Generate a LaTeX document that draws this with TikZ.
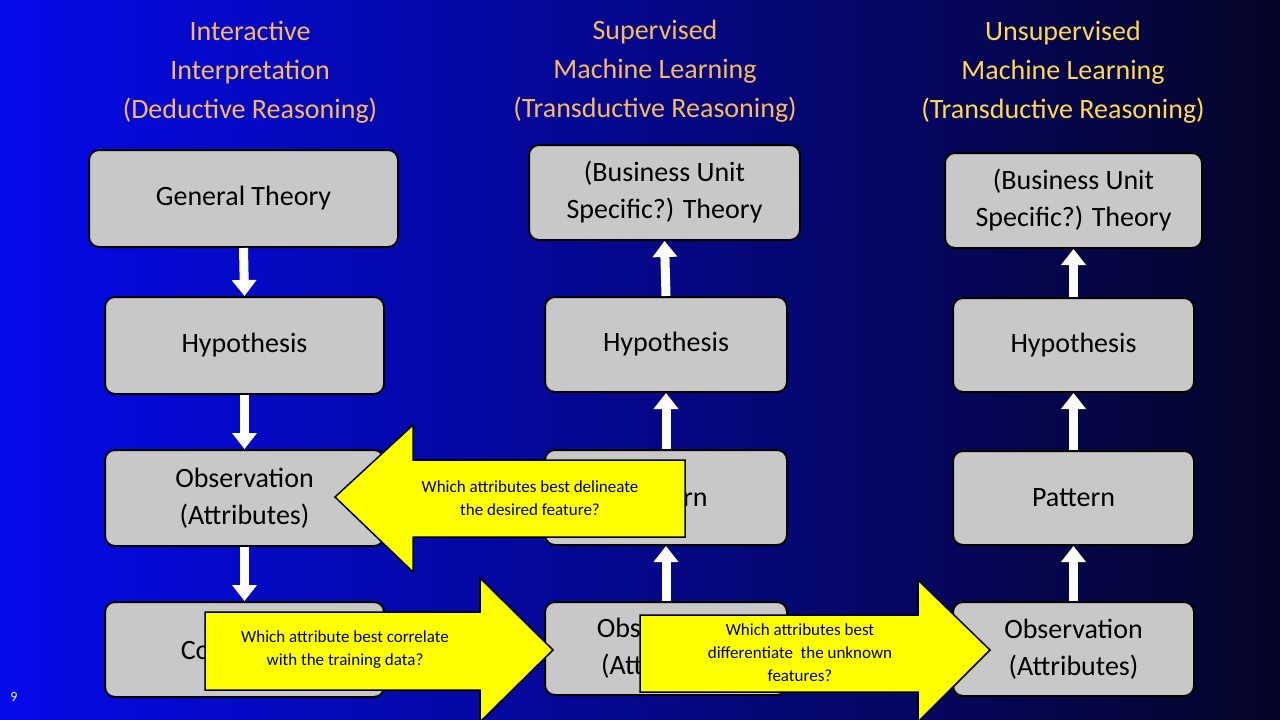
\documentclass[tikz,border=0pt]{standalone}
\usepackage{fontspec}
\setmainfont{Carlito}
\usetikzlibrary{arrows.meta}
\definecolor{boxgray}{RGB}{200,200,200}
\definecolor{ttlA}{RGB}{250,185,90}
\definecolor{ttlB}{RGB}{255,215,80}
\definecolor{yel}{RGB}{255,255,0}
\tikzset{
 box/.style={draw=black,line width=2pt,fill=boxgray,rounded corners=10pt,font=\fontsize{28}{37}\selectfont,align=center},
 ttl/.style={font=\fontsize{28}{39}\selectfont,align=center},
 warr/.style={white,line width=9pt,-{Triangle[width=24pt,length=16pt]}},
 yarr/.style={fill=yel,draw=black,line width=1.5pt},
 ytext/.style={font=\fontsize{17}{23}\selectfont,align=center}
}
\begin{document}
\begin{tikzpicture}[x=1pt,y=-1pt]
\useasboundingbox (0,0) rectangle (1280,720);
\shade[left color={rgb,255:red,5;green,10;blue,235},right color={rgb,255:red,5;green,5;blue,40}] (0,0) rectangle (1280,720);
\node[ttl,text=ttlA] (t1) at (250,72) {Interactive\\Interpretation\\(Deductive Reasoning)};
\node[ttl,text=ttlA] (t2) at (655,71) {Supervised\\Machine Learning\\(Transductive Reasoning)};
\node[ttl,text=ttlB] (t3) at (1063,72) {Unsupervised\\Machine Learning\\(Transductive Reasoning)};
% column 1
\node[box,minimum width=309pt,minimum height=97pt] (a1) at (243.5,198.5) {General Theory};
\node[box,minimum width=279pt,minimum height=97pt] (a2) at (244.5,345.5) {Hypothesis};
\node[box,minimum width=279pt,minimum height=96pt] (a3) at (244.5,498) {Observation\\(Attributes)};
\node[box,minimum width=279pt,minimum height=95pt] (a4) at (244.5,649.5) {Correlation};
% column 2
\node[box,minimum width=271pt,minimum height=95pt] (b1) at (664.5,192.5) {(Business Unit\\Specific?) Theory};
\node[box,minimum width=242pt,minimum height=95pt] (b2) at (666,344.5) {Hypothesis};
\node[box,minimum width=242pt,minimum height=95pt] (b3) at (666,497.5) {Pattern};
\node[box,minimum width=242pt,minimum height=93pt] (b4) at (666,648.5) {Observation\\(Attributes)};
% column 3
\node[box,minimum width=257pt,minimum height=95pt] (c1) at (1073.5,200.5) {(Business Unit\\Specific?) Theory};
\node[box,minimum width=241pt,minimum height=94pt] (c2) at (1073.5,345) {Hypothesis};
\node[box,minimum width=241pt,minimum height=94pt] (c3) at (1073.5,498) {Pattern};
\node[box,minimum width=241pt,minimum height=94pt] (c4) at (1073.5,649) {Observation\\(Attributes)};
% white arrows
\draw[warr] (a1.south) -- (a2.north);
\draw[warr] (a2.south) -- (a3.north);
\draw[warr] (a3.south) -- (a4.north);
\draw[warr] (b2.north) -- (b1.south);
\draw[warr] (b3.north) -- (b2.south);
\draw[warr] (b4.north) -- (b3.south);
\draw[warr] (c2.north) -- (c1.south);
\draw[warr] (c3.north) -- (c2.south);
\draw[warr] (c4.north) -- (c3.south);
% yellow arrows
\draw[yarr] (685,460) -- (413,460) -- (413,425) -- (335,497) -- (413,572) -- (413,537) -- (685,537) -- cycle;
\node[ytext] (y1) at (530,498) {Which attributes best delineate\\the desired feature?};
\draw[yarr] (205,612) -- (480,612) -- (480,578) -- (553,650) -- (480,722) -- (480,690) -- (205,690) -- cycle;
\node[ytext] (y2) at (345,650) {Which attribute best correlate\\with the training data?};
\draw[yarr] (640,615) -- (918,615) -- (918,580) -- (990,650) -- (918,722) -- (918,692) -- (640,692) -- cycle;
\node[ytext] (y3) at (800,653) {Which attributes best\\differentiate\ \ the unknown\\features?};
\node[text=white,font=\fontsize{14}{16}\selectfont] (pg) at (14,697) {9};
\end{tikzpicture}
\end{document}
